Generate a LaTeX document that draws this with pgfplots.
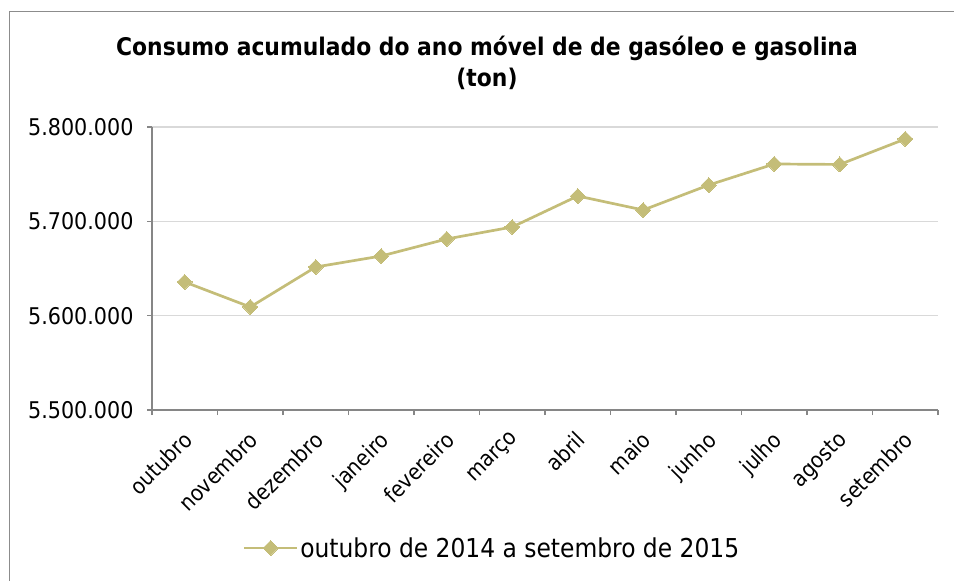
\documentclass[border=0pt]{standalone}
\usepackage{pgfplots}
\pgfplotsset{compat=1.18}
\usepackage{fontspec}
\setmainfont{DejaVu Sans Condensed}
\definecolor{lineol}{RGB}{196,189,120}
\definecolor{gridg}{RGB}{217,217,217}
\definecolor{axg}{RGB}{134,134,134}
\definecolor{frameg}{RGB}{140,140,140}
\begin{document}
\begin{tikzpicture}
\path[use as bounding box] (0,0) rectangle (954pt,-581pt);
\draw[frameg, line width=1.2pt] (9.5pt,-590pt) -- (9.5pt,-11.5pt) -- (970pt,-11.5pt);
\node[font=\fontsize{24.3}{31}\selectfont\bfseries, align=center] at (487pt,-63pt)
  {Consumo acumulado do ano móvel de de gasóleo e gasolina\\(ton)};
\begin{axis}[
  at={(152pt,-410pt)}, anchor=south west,
  scale only axis, width=786pt, height=283pt,
  xmin=-0.5, xmax=11.5,
  ymin=5500000, ymax=5800000,
  ytick={5500000,5600000,5700000,5800000},
  scaled y ticks=false,
  /pgf/number format/.cd, fixed, 1000 sep={.}, assume math mode=true,
  /pgfplots/.cd,
  yticklabel style={font=\fontsize{23}{26}\selectfont, xshift=-10pt},
  xtick={0,...,11},
  xticklabels={outubro,novembro,dezembro,janeiro,fevereiro,março,abril,maio,junho,julho,agosto,setembro},
  xticklabel style={font=\fontsize{22}{25}\selectfont, rotate=45, anchor=north east, xshift=-9pt, yshift=-5pt},
  major x tick style={draw=none},
  minor xtick={-0.5,0.5,...,11.5},
  minor tick length=5pt,
  major tick length=5pt,
  tick style={axg, line width=1.2pt},
  tick align=outside, tick pos=left,
  ymajorgrids, grid style={gridg, line width=1.3pt},
  axis x line*=bottom, axis y line*=left,
  axis line style={axg, line width=1.2pt},
  legend style={at={(0.4326,-0.4876)}, anchor=center, draw=none, fill=none,
    font=\fontsize{26}{29}\selectfont, legend cell align=left, inner sep=0pt},
  legend image code/.code={
    \draw[#1, line width=2.5pt] (0pt,0pt) -- (53pt,0pt);
    \path[#1] plot coordinates {(26.5pt,0pt)};
  },
]
\addplot[color=lineol, line width=2.7pt, mark=square*, mark size=5.3pt,
  mark options={rotate=45, fill=lineol, draw=lineol, line width=0pt}]
  coordinates {
  (0,5635700) (1,5609200) (2,5651600) (3,5663250) (4,5681300) (5,5694000)
  (6,5726850) (7,5712000) (8,5738500) (9,5760800) (10,5760300) (11,5787300)
  };
\addlegendentry{outubro de 2014 a setembro de 2015}
\end{axis}
\end{tikzpicture}
\end{document}
